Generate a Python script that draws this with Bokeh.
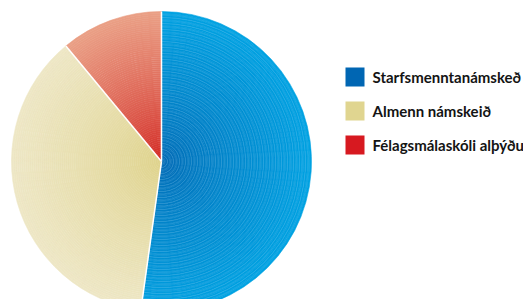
from bokeh.plotting import figure
from bokeh.models import Range1d
from bokeh.core.properties import value
from bokeh.embed import file_html
from bokeh.resources import INLINE
import numpy as np

# --- data ---
categories = ["Starfsmenntanámskeð", "Almenn námskeið", "Félagsmálaskóli alþýðu"]
shares = [52.2, 36.8, 11.0]
legend_colors = ["#0066b3", "#e0d590", "#d71920"]
center_colors = ["#0368b3", "#ded28a", "#d22420"]
edge_colors = ["#00a2e2", "#eee7c6", "#eaa086"]

W, H = 523, 299
p = figure(width=W, height=H, output_backend="svg", toolbar_location=None,
           x_range=Range1d(0, W), y_range=Range1d(0, H),
           min_border=0, x_axis_location=None, y_axis_location=None,
           outline_line_color=None, background_fill_color="white")
p.xgrid.visible = False
p.ygrid.visible = False

# data y = H - picture y
cx, cy, R = 161, H - 161, 150
N = 75


def hex2rgb(h):
    return np.array([int(h[i:i + 2], 16) for i in (1, 3, 5)], dtype=float)


def mix(a, b, t):
    c = hex2rgb(a) * (1 - t) + hex2rgb(b) * t
    return "#%02x%02x%02x" % tuple(int(round(v)) for v in c)


cum = np.concatenate([[0], np.cumsum(shares)])
total = cum[-1]
starts = [np.pi / 2 - 2 * np.pi * cum[k] / total for k in range(len(shares))]
ends = [np.pi / 2 - 2 * np.pi * cum[k + 1] / total for k in range(len(shares))]

for k in range(len(shares)):
    inner = [R * i / N for i in range(N)]
    outer = [R * (i + 1) / N for i in range(N)]
    cols = [mix(center_colors[k], edge_colors[k], ((i + 0.5) / N) ** 0.8) for i in range(N)]
    p.annular_wedge(x=cx, y=cy, inner_radius=inner, outer_radius=outer,
                    start_angle=starts[k], end_angle=ends[k], direction="clock",
                    fill_color=cols, line_color=cols, line_width=0.6)

# blue concentric stripe texture
stripe_r = list(np.arange(3, R, 3.0))
p.arc(x=cx, y=cy, radius=stripe_r, start_angle=starts[0], end_angle=ends[0],
      direction="clock", line_color="#8fd0f2", line_alpha=0.32, line_width=0.7)

# white separators
p.ray(x=cx, y=cy, length=R, angle=[starts[k] for k in range(len(shares))],
      line_color="white", line_width=1.5)

# legend
lx, ly0, dy = 354.5, H - 76.5, 34
ys = [ly0 - i * dy for i in range(len(categories))]
p.rect(x=lx, y=ys, width=19, height=19, fill_color=legend_colors, line_color=None)
p.text(x=372, y=ys, text=categories, text_font=value("Lato"),
       text_font_style="bold", text_font_size="15px", text_color="#141414",
       text_baseline="middle", text_align="left")

open("out.html", "w").write(file_html(p, INLINE))
